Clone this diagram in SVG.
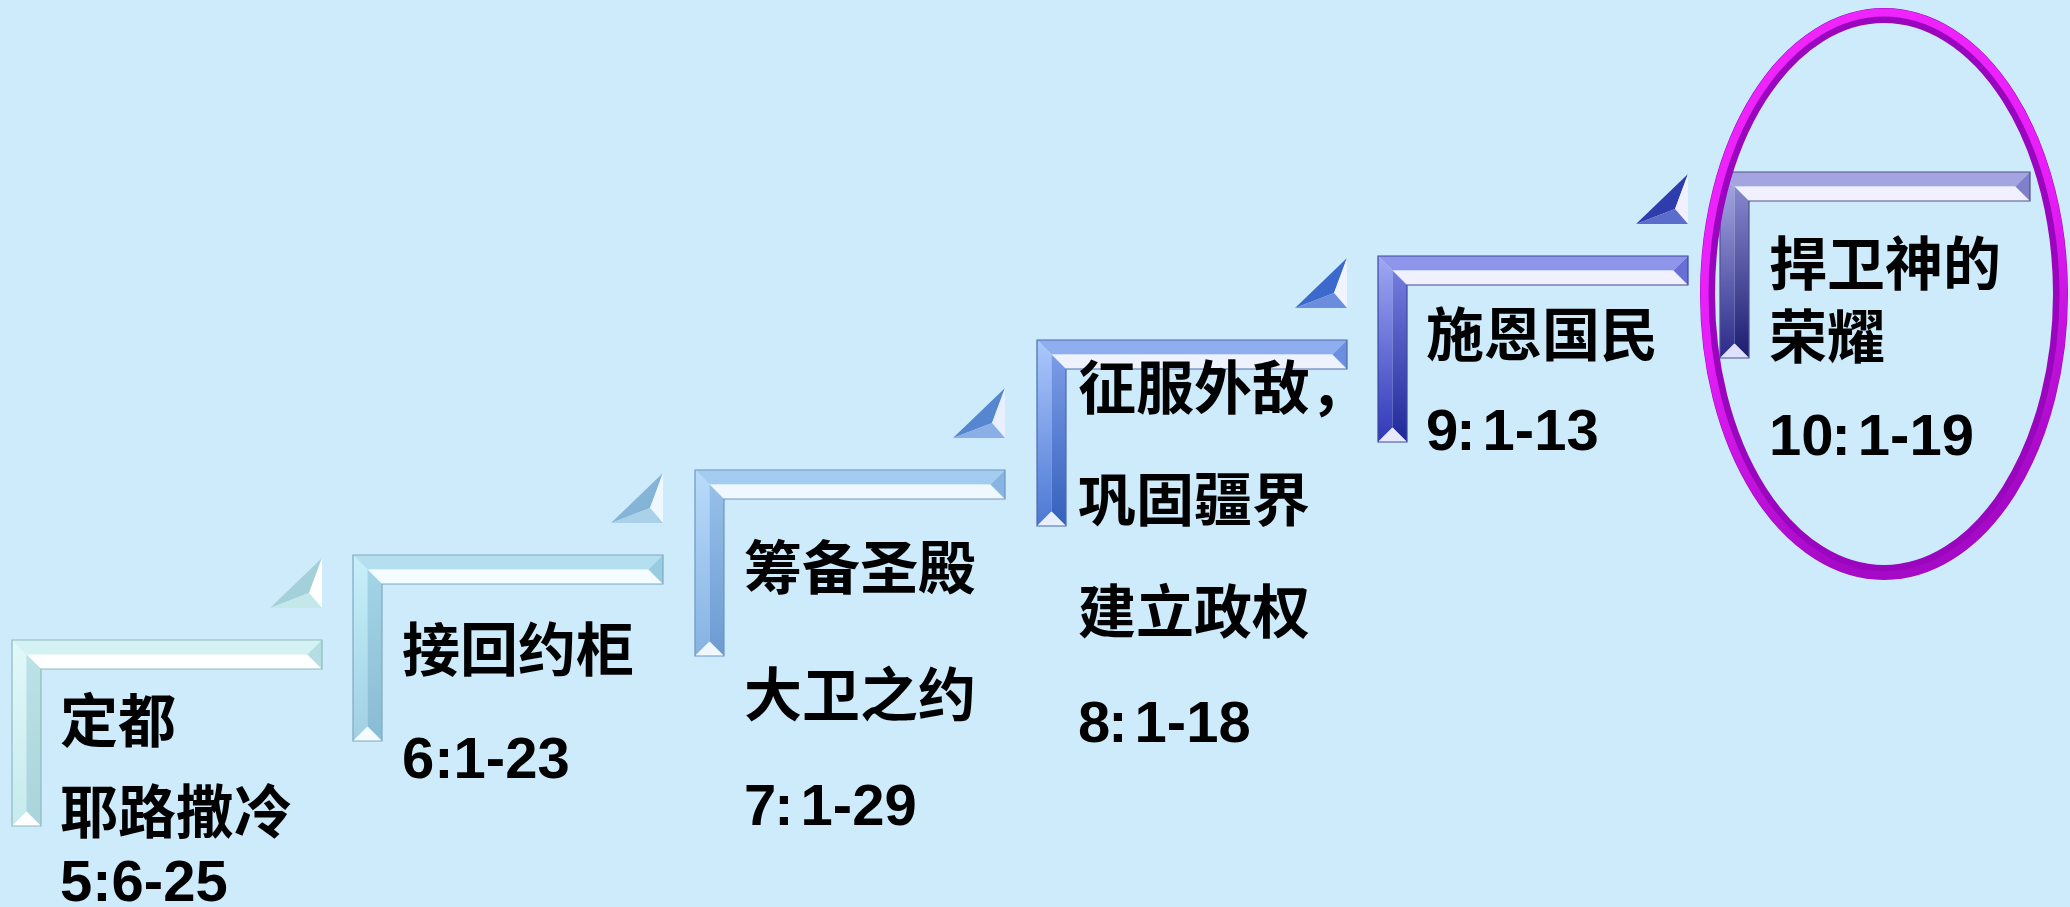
<svg xmlns="http://www.w3.org/2000/svg" width="2070" height="907" viewBox="0 0 2070 907">
  <defs>
    <style>
      .t { font-family: "Liberation Sans", "Noto Sans CJK SC", sans-serif; font-weight: bold; font-size: 58px; fill: #000; }
      .ol { fill: none; stroke-width: 1.2; }
      #s1 .htop{fill:#D4F2F4} #s1 .hbot{fill:#FFFFFF} #s1 .hend{fill:#B4DEE2} #s1 .vleft{fill:url(#vl1)} #s1 .vright{fill:url(#vr1)} #s1 .vbot{fill:#FFFFFF} #s1 .ol{stroke:#8FB9C0}
      #s2 .htop{fill:#B4DFEE} #s2 .hbot{fill:#F4FCFF} #s2 .hend{fill:#98CCE0} #s2 .vleft{fill:url(#vl2)} #s2 .vright{fill:url(#vr2)} #s2 .vbot{fill:#F4FCFF} #s2 .ol{stroke:#80AAC0}
      #s3 .htop{fill:#A4CCF0} #s3 .hbot{fill:#F0F8FF} #s3 .hend{fill:#88B4E4} #s3 .vleft{fill:url(#vl3)} #s3 .vright{fill:url(#vr3)} #s3 .vbot{fill:#F0F8FF} #s3 .ol{stroke:#7096C0}
      #s4 .htop{fill:#8EAEF0} #s4 .hbot{fill:#EEF2FF} #s4 .hend{fill:#6A8EE0} #s4 .vleft{fill:url(#vl4)} #s4 .vright{fill:url(#vr4)} #s4 .vbot{fill:#E8F0FF} #s4 .ol{stroke:#4C6CA8}
      #s5 .htop{fill:#8E96EC} #s5 .hbot{fill:#F0F0FF} #s5 .hend{fill:#6870D8} #s5 .vleft{fill:url(#vl5)} #s5 .vright{fill:url(#vr5)} #s5 .vbot{fill:#E8E8FF} #s5 .ol{stroke:#40489C}
      #s6 .htop{fill:#A4A4E0} #s6 .hbot{fill:#F0F0FF} #s6 .hend{fill:#8080C8} #s6 .vleft{fill:url(#vl6)} #s6 .vright{fill:url(#vr6)} #s6 .vbot{fill:#E0E0FF} #s6 .ol{stroke:#50508C}
      #t1 .tdiag{fill:#A4D0DA} #t1 .tright{fill:#FFFFFF} #t1 .tbot{fill:#C4E8EA}
      #t2 .tdiag{fill:#84B4D6} #t2 .tright{fill:#F0F8FF} #t2 .tbot{fill:#AAD0EA}
      #t3 .tdiag{fill:#5686D0} #t3 .tright{fill:#E8F0FF} #t3 .tbot{fill:#8AAEE6}
      #t4 .tdiag{fill:#3C6ACC} #t4 .tright{fill:#F0F4FF} #t4 .tbot{fill:#6C8CDE}
      #t5 .tdiag{fill:#2E3CAC} #t5 .tright{fill:#F0F0FF} #t5 .tbot{fill:#5C6CCC}
    </style>
    <linearGradient id="vl1" x1="0" y1="0" x2="0" y2="1"><stop offset="0" stop-color="#E2F8F8"/><stop offset="1" stop-color="#C6EAEE"/></linearGradient>
    <linearGradient id="vr1" x1="0" y1="0" x2="0" y2="1"><stop offset="0" stop-color="#BCE2E6"/><stop offset="1" stop-color="#A8D4DA"/></linearGradient>
    <linearGradient id="vl2" x1="0" y1="0" x2="0" y2="1"><stop offset="0" stop-color="#C8F0FA"/><stop offset="1" stop-color="#A0D0E4"/></linearGradient>
    <linearGradient id="vr2" x1="0" y1="0" x2="0" y2="1"><stop offset="0" stop-color="#A4D4E6"/><stop offset="1" stop-color="#88BCD4"/></linearGradient>
    <linearGradient id="vl3" x1="0" y1="0" x2="0" y2="1"><stop offset="0" stop-color="#B8DCFA"/><stop offset="1" stop-color="#86B2E2"/></linearGradient>
    <linearGradient id="vr3" x1="0" y1="0" x2="0" y2="1"><stop offset="0" stop-color="#96C0EA"/><stop offset="1" stop-color="#6C9AD2"/></linearGradient>
    <linearGradient id="vl4" x1="0" y1="0" x2="0" y2="1"><stop offset="0" stop-color="#ACC8FC"/><stop offset="1" stop-color="#4C78D4"/></linearGradient>
    <linearGradient id="vr4" x1="0" y1="0" x2="0" y2="1"><stop offset="0" stop-color="#7C9CE6"/><stop offset="1" stop-color="#3460BC"/></linearGradient>
    <linearGradient id="vl5" x1="0" y1="0" x2="0" y2="1"><stop offset="0" stop-color="#A0A8F4"/><stop offset="1" stop-color="#3038B8"/></linearGradient>
    <linearGradient id="vr5" x1="0" y1="0" x2="0" y2="1"><stop offset="0" stop-color="#747CDE"/><stop offset="1" stop-color="#202898"/></linearGradient>
    <linearGradient id="vl6" x1="0" y1="0" x2="0" y2="1"><stop offset="0" stop-color="#ACACE6"/><stop offset="1" stop-color="#2A2A8A"/></linearGradient>
    <linearGradient id="vr6" x1="0" y1="0" x2="0" y2="1"><stop offset="0" stop-color="#8888CE"/><stop offset="1" stop-color="#1C1C70"/></linearGradient>
    <linearGradient id="ringhi" x1="0" y1="0" x2="0.3" y2="1"><stop offset="0" stop-color="#F226FF"/><stop offset="0.55" stop-color="#E81EF8"/><stop offset="1" stop-color="#E81EF8" stop-opacity="0.15"/></linearGradient>
  </defs>
  <rect width="2070" height="907" fill="#CDEBFB"/>

  <g id="connectors">
    <g id="t1" transform="translate(270,558)"><polygon class="tdiag" points="52,0 0,50 39,35"/><polygon class="tright" points="52,0 52,50 39,35"/><polygon class="tbot" points="0,50 52,50 39,35"/></g>
    <g id="t2" transform="translate(611,473)"><polygon class="tdiag" points="52,0 0,50 39,35"/><polygon class="tright" points="52,0 52,50 39,35"/><polygon class="tbot" points="0,50 52,50 39,35"/></g>
    <g id="t3" transform="translate(953,388)"><polygon class="tdiag" points="52,0 0,50 39,35"/><polygon class="tright" points="52,0 52,50 39,35"/><polygon class="tbot" points="0,50 52,50 39,35"/></g>
    <g id="t4" transform="translate(1295,258)"><polygon class="tdiag" points="52,0 0,50 39,35"/><polygon class="tright" points="52,0 52,50 39,35"/><polygon class="tbot" points="0,50 52,50 39,35"/></g>
    <g id="t5" transform="translate(1636,174)"><polygon class="tdiag" points="52,0 0,50 39,35"/><polygon class="tright" points="52,0 52,50 39,35"/><polygon class="tbot" points="0,50 52,50 39,35"/></g>
  </g>

  <g id="s1">
    <g transform="translate(12,640)">
      <polygon class="htop" points="0,0 310,0 295.5,14.5 14.5,14.5"/>
      <polygon class="hbot" points="14.5,14.5 295.5,14.5 310,29 29,29"/>
      <polygon class="hend" points="310,0 310,29 295.5,14.5"/>
      <polygon class="vleft" points="0,0 14.5,14.5 14.5,171.5 0,186"/>
      <polygon class="vright" points="14.5,14.5 29,29 29,186 14.5,171.5"/>
      <polygon class="vbot" points="0,186 29,186 14.5,171.5"/>
      <path class="ol" d="M0,0 H310 V29 H29 V186 H0 Z"/>
    </g>
    <text class="t" x="60" y="742">定都</text>
    <text class="t" x="60" y="833">耶路撒冷</text>
    <text class="t" x="60" y="901">5:6-25</text>
  </g>
  <g id="s2">
    <g transform="translate(353,555)">
      <polygon class="htop" points="0,0 310,0 295.5,14.5 14.5,14.5"/>
      <polygon class="hbot" points="14.5,14.5 295.5,14.5 310,29 29,29"/>
      <polygon class="hend" points="310,0 310,29 295.5,14.5"/>
      <polygon class="vleft" points="0,0 14.5,14.5 14.5,171.5 0,186"/>
      <polygon class="vright" points="14.5,14.5 29,29 29,186 14.5,171.5"/>
      <polygon class="vbot" points="0,186 29,186 14.5,171.5"/>
      <path class="ol" d="M0,0 H310 V29 H29 V186 H0 Z"/>
    </g>
    <text class="t" x="402" y="671">接回约柜</text>
    <text class="t" x="402" y="778">6:1-23</text>
  </g>
  <g id="s3">
    <g transform="translate(695,470)">
      <polygon class="htop" points="0,0 310,0 295.5,14.5 14.5,14.5"/>
      <polygon class="hbot" points="14.5,14.5 295.5,14.5 310,29 29,29"/>
      <polygon class="hend" points="310,0 310,29 295.5,14.5"/>
      <polygon class="vleft" points="0,0 14.5,14.5 14.5,171.5 0,186"/>
      <polygon class="vright" points="14.5,14.5 29,29 29,186 14.5,171.5"/>
      <polygon class="vbot" points="0,186 29,186 14.5,171.5"/>
      <path class="ol" d="M0,0 H310 V29 H29 V186 H0 Z"/>
    </g>
    <text class="t" x="744" y="589">筹备圣殿</text>
    <text class="t" x="744" y="716">大卫之约</text>
    <text class="t" x="744" y="825">7<tspan dx="-2">:</tspan><tspan dx="7">1-29</tspan></text>
  </g>
  <g id="s4">
    <g transform="translate(1037,340)">
      <polygon class="htop" points="0,0 310,0 295.5,14.5 14.5,14.5"/>
      <polygon class="hbot" points="14.5,14.5 295.5,14.5 310,29 29,29"/>
      <polygon class="hend" points="310,0 310,29 295.5,14.5"/>
      <polygon class="vleft" points="0,0 14.5,14.5 14.5,171.5 0,186"/>
      <polygon class="vright" points="14.5,14.5 29,29 29,186 14.5,171.5"/>
      <polygon class="vbot" points="0,186 29,186 14.5,171.5"/>
      <path class="ol" d="M0,0 H310 V29 H29 V186 H0 Z"/>
    </g>
    <text class="t" x="1078" y="409">征服外敌，</text>
    <text class="t" x="1078" y="521">巩固疆界</text>
    <text class="t" x="1078" y="633">建立政权</text>
    <text class="t" x="1078" y="742">8<tspan dx="-2">:</tspan><tspan dx="7">1-18</tspan></text>
  </g>
  <g id="s5">
    <g transform="translate(1378,256)">
      <polygon class="htop" points="0,0 310,0 295.5,14.5 14.5,14.5"/>
      <polygon class="hbot" points="14.5,14.5 295.5,14.5 310,29 29,29"/>
      <polygon class="hend" points="310,0 310,29 295.5,14.5"/>
      <polygon class="vleft" points="0,0 14.5,14.5 14.5,171.5 0,186"/>
      <polygon class="vright" points="14.5,14.5 29,29 29,186 14.5,171.5"/>
      <polygon class="vbot" points="0,186 29,186 14.5,171.5"/>
      <path class="ol" d="M0,0 H310 V29 H29 V186 H0 Z"/>
    </g>
    <text class="t" x="1426" y="356">施恩国民</text>
    <text class="t" x="1426" y="450">9<tspan dx="-2">:</tspan><tspan dx="7">1-13</tspan></text>
  </g>
  <g id="s6">
    <g transform="translate(1720,172)">
      <polygon class="htop" points="0,0 310,0 295.5,14.5 14.5,14.5"/>
      <polygon class="hbot" points="14.5,14.5 295.5,14.5 310,29 29,29"/>
      <polygon class="hend" points="310,0 310,29 295.5,14.5"/>
      <polygon class="vleft" points="0,0 14.5,14.5 14.5,171.5 0,186"/>
      <polygon class="vright" points="14.5,14.5 29,29 29,186 14.5,171.5"/>
      <polygon class="vbot" points="0,186 29,186 14.5,171.5"/>
      <path class="ol" d="M0,0 H310 V29 H29 V186 H0 Z"/>
    </g>
    <text class="t" x="1769" y="285">捍卫神的</text>
    <text class="t" x="1769" y="358">荣耀</text>
    <text class="t" x="1769" y="455">10<tspan dx="-2">:</tspan><tspan dx="7">1-19</tspan></text>
  </g>

  <g id="highlight">
    <ellipse cx="1884" cy="294" rx="176.5" ry="278.5" fill="none" stroke="#9A06BE" stroke-width="15"/>
    <ellipse cx="1884" cy="294" rx="179.5" ry="281.5" fill="none" stroke="url(#ringhi)" stroke-width="8"/>
  </g>
</svg>
